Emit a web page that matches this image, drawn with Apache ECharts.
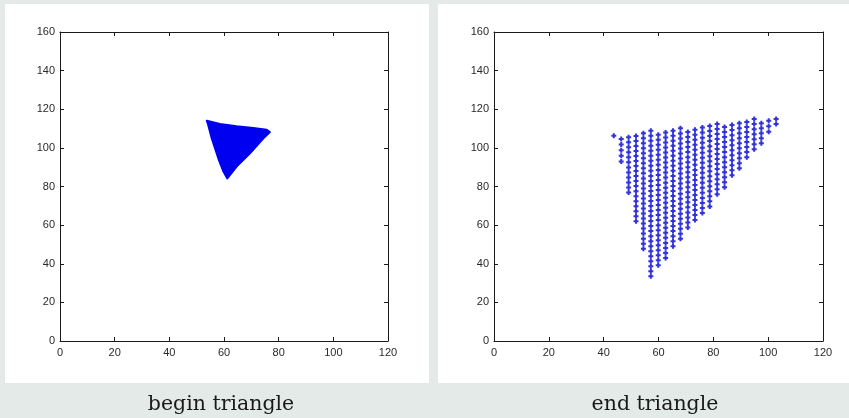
<!DOCTYPE html>
<html><head><meta charset="utf-8">
<script src="https://cdn.jsdelivr.net/npm/echarts@6/dist/echarts.min.js"></script>
<style>html,body{margin:0;padding:0;background:#e3eae8;}#c{width:849px;height:418px;}</style>
</head><body><div id="c"></div>
<script>
// ---- data ----
const xTickMin = 0, xTickMax = 120, xTickStep = 20;
const yTickMin = 0, yTickMax = 160, yTickStep = 20;
const captions = ['begin triangle', 'end triangle'];

// begin triangle: dense filled blob, outline vertices (x, y)
const beginOutlineX = [53.7, 58.5, 64.6, 70.7, 75.6, 76.8, 74.4, 69.5, 64.6, 61.2, 59.8, 57.9, 55.5, 54.2];
const beginOutlineY = [114.1, 112.4, 111.2, 110.3, 109.4, 108.2, 105.0, 97.2, 90.3, 84.2, 87.7, 94.6, 105.0, 112.0];

// end triangle: columns of points (x of each column, y values in each column)
const endColumnX = [43.7, 46.4, 49.1, 51.8, 54.5, 57.2, 59.9, 62.6, 65.3, 68.0, 70.7, 73.3, 76.0, 78.7, 81.4, 84.1, 86.8, 89.5, 92.2, 94.9, 97.5, 100.2, 102.9];
const endColumnY = [
  [106.3],
  [104.6, 101.7, 98.8, 95.9, 93.0],
  [105.5, 102.9, 100.3, 97.7, 95.1, 92.5, 89.9, 87.3, 84.7, 82.1, 79.5, 76.9],
  [106.2, 103.6, 101.0, 98.4, 95.8, 93.2, 90.6, 88.0, 85.4, 82.8, 80.2, 77.6, 75.0, 72.4, 69.8, 67.2, 64.6, 62.0],
  [107.6, 105.0, 102.4, 99.8, 97.2, 94.6, 92.0, 89.4, 86.8, 84.2, 81.6, 79.0, 76.4, 73.8, 71.2, 68.6, 66.0, 63.4, 60.8, 58.2, 55.6, 53.0, 50.4, 47.8],
  [108.9, 106.3, 103.7, 101.1, 98.5, 95.9, 93.3, 90.7, 88.1, 85.5, 82.9, 80.3, 77.7, 75.1, 72.5, 69.9, 67.3, 64.7, 62.1, 59.5, 56.9, 54.3, 51.7, 49.1, 46.5, 43.9, 41.3, 38.7, 36.1, 33.5],
  [106.8, 104.2, 101.6, 99.0, 96.4, 93.8, 91.2, 88.6, 86.0, 83.4, 80.8, 78.2, 75.6, 73.0, 70.4, 67.8, 65.2, 62.6, 60.0, 57.4, 54.8, 52.2, 49.6, 47.0, 44.4, 41.8, 39.2],
  [108.0, 105.4, 102.8, 100.2, 97.6, 95.0, 92.4, 89.8, 87.2, 84.6, 82.0, 79.4, 76.8, 74.2, 71.6, 69.0, 66.4, 63.8, 61.2, 58.6, 56.0, 53.4, 50.8, 48.2, 45.6, 43.0],
  [108.9, 106.3, 103.7, 101.1, 98.5, 95.9, 93.3, 90.7, 88.1, 85.5, 82.9, 80.3, 77.7, 75.1, 72.5, 69.9, 67.3, 64.7, 62.1, 59.5, 56.9, 54.3, 51.7, 49.1],
  [110.1, 107.5, 104.9, 102.3, 99.7, 97.1, 94.5, 91.9, 89.3, 86.7, 84.1, 81.5, 78.9, 76.3, 73.7, 71.1, 68.5, 65.9, 63.3, 60.7, 58.1, 55.5, 52.9],
  [108.2, 105.6, 103.0, 100.4, 97.8, 95.2, 92.6, 90.0, 87.4, 84.8, 82.2, 79.6, 77.0, 74.4, 71.8, 69.2, 66.6, 64.0, 61.4, 58.8],
  [109.4, 106.8, 104.2, 101.6, 99.0, 96.4, 93.8, 91.2, 88.6, 86.0, 83.4, 80.8, 78.2, 75.6, 73.0, 70.4, 67.8, 65.2, 62.6],
  [110.5, 107.9, 105.3, 102.7, 100.1, 97.5, 94.9, 92.3, 89.7, 87.1, 84.5, 81.9, 79.3, 76.7, 74.1, 71.5, 68.9, 66.3],
  [111.3, 108.7, 106.1, 103.5, 100.9, 98.3, 95.7, 93.1, 90.5, 87.9, 85.3, 82.7, 80.1, 77.5, 74.9, 72.3, 69.7],
  [112.4, 109.8, 107.2, 104.6, 102.0, 99.4, 96.8, 94.2, 91.6, 89.0, 86.4, 83.8, 81.2, 78.6, 76.0],
  [110.8, 108.2, 105.6, 103.0, 100.4, 97.8, 95.2, 92.6, 90.0, 87.4, 84.8, 82.2, 79.6],
  [111.8, 109.2, 106.6, 104.0, 101.4, 98.8, 96.2, 93.6, 91.0, 88.4, 85.8],
  [112.8, 110.2, 107.6, 105.0, 102.4, 99.8, 97.2, 94.6, 92.0, 89.4],
  [113.4, 110.8, 108.2, 105.6, 103.0, 100.4, 97.8, 95.2],
  [114.9, 112.3, 109.7, 107.1, 104.5, 101.9, 99.3],
  [112.8, 110.2, 107.6, 105.0, 102.4],
  [114.0, 111.2, 108.4],
  [115.0, 112.4]
];

// ---- build chart ----
const endPoints = [];
endColumnX.forEach((x, i) => endColumnY[i].forEach(y => endPoints.push([x, y])));

const axisColor = '#1a1a1a';
const labelStyle = { color: '#2a2a2a', fontSize: 11, fontFamily: 'Liberation Sans, Arial, sans-serif' };

function xAxes(gi) {
  const base = { type: 'value', gridIndex: gi, min: xTickMin, max: xTickMax, interval: xTickStep,
    splitLine: { show: false }, axisLine: { show: true, onZero: false, lineStyle: { color: axisColor, width: 1 } },
    axisTick: { show: true, inside: true, length: 4, lineStyle: { color: axisColor } } };
  return [
    Object.assign({}, base, { position: 'bottom', axisLabel: Object.assign({ margin: 6 }, labelStyle) }),
    Object.assign({}, base, { position: 'top', axisLabel: { show: false } })
  ];
}
function yAxes(gi) {
  const base = { type: 'value', gridIndex: gi, min: yTickMin, max: yTickMax, interval: yTickStep,
    splitLine: { show: false }, axisLine: { show: true, onZero: false, lineStyle: { color: axisColor, width: 1 } },
    axisTick: { show: true, inside: true, length: 4, lineStyle: { color: axisColor } } };
  return [
    Object.assign({}, base, { position: 'left', axisLabel: Object.assign({ margin: 5 }, labelStyle) }),
    Object.assign({}, base, { position: 'right', axisLabel: { show: false } })
  ];
}

const chart = echarts.init(document.getElementById('c'), null, { renderer: 'canvas' });
chart.setOption({
  animation: false,
  backgroundColor: '#e3eae8',
  graphic: [
    { type: 'rect', z: -10, shape: { x: 5, y: 4, width: 424, height: 379 }, style: { fill: '#ffffff' } },
    { type: 'rect', z: -10, shape: { x: 438, y: 4, width: 411, height: 379 }, style: { fill: '#ffffff' } },
    { type: 'text', x: 221, y: 405, style: { text: captions[0], fill: '#1a1a1a', font: '20.5px "DejaVu Serif", serif', align: 'center', verticalAlign: 'middle' } },
    { type: 'text', x: 655, y: 405, style: { text: captions[1], fill: '#1a1a1a', font: '20.5px "DejaVu Serif", serif', align: 'center', verticalAlign: 'middle' } }
  ],
  grid: [
    { left: 60, top: 32, width: 328, height: 309, outerBoundsMode: 'none', containLabel: false },
    { left: 494, top: 32, width: 329, height: 309, outerBoundsMode: 'none', containLabel: false }
  ],
  xAxis: xAxes(0).concat(xAxes(1)),
  yAxis: yAxes(0).concat(yAxes(1)),
  series: [
    {
      type: 'custom', xAxisIndex: 0, yAxisIndex: 0,
      data: [[beginOutlineX[0], beginOutlineY[0]]],
      renderItem: function (params, api) {
        const pts = beginOutlineX.map((x, i) => api.coord([x, beginOutlineY[i]]));
        return { type: 'polygon', shape: { points: pts },
          style: { fill: '#0000f0', stroke: '#0000f0', lineWidth: 2, lineJoin: 'round' } };
      }
    },
    {
      type: 'scatter', xAxisIndex: 2, yAxisIndex: 2,
      symbol: 'path://M1.5 0h2v1.5h1.5v2h-1.5v1.5h-2v-1.5h-1.5v-2h1.5z',
      symbolSize: 5,
      itemStyle: { color: '#0000d2' },
      data: endPoints
    }
  ]
});
</script>
</body></html>
